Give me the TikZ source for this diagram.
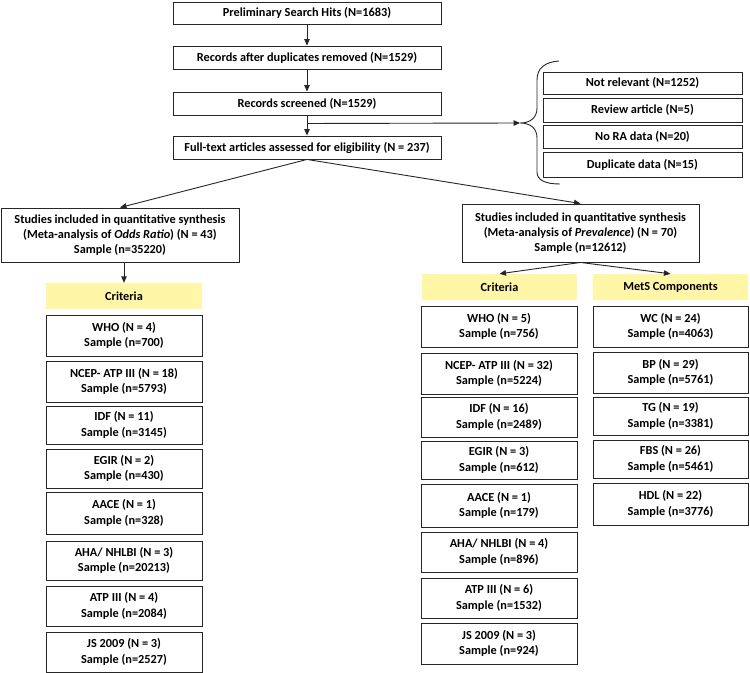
\documentclass[tikz,border=0pt]{standalone}
\usepackage{fontspec}
\setmainfont{Carlito}
\usetikzlibrary{arrows.meta,calc}
\definecolor{crityellow}{RGB}{255,246,168}
\newcommand\bx[7][box]{\node[#1, minimum width={(#5-#3)*1bp}, minimum height={(#6-#4)*1bp}] (#2) at ({(#3+#5)/2},{(#4+#6)/2}) {#7};}
\begin{document}
\begin{tikzpicture}[x=1bp,y=-1bp,
  box/.style={draw=black!85, line width=0.9bp, fill=white, inner sep=0pt, align=center,
    font=\bfseries\fontsize{12.3bp}{15.3bp}\selectfont},
  ybox/.style={fill=crityellow, inner sep=0pt, align=center,
    font=\bfseries\fontsize{12.3bp}{15.3bp}\selectfont},
  arr/.style={-{Triangle[length=6.5bp,width=5.5bp]}, line width=0.9bp, black!85},
  ln/.style={line width=0.9bp, black!85}]
\useasboundingbox (0,0) rectangle (750,673);
% main column
\bx{b1}{173}{2}{441}{24}{Preliminary Search Hits (N=1683)}
\bx{b2}{173}{46}{441}{69}{Records after duplicates removed (N=1529)}
\bx{b3}{173}{92}{441}{115}{Records screened (N=1529)}
\bx{b4}{173}{136}{441}{159}{Full-text articles assessed for eligibility (N = 237)}
% excluded
\bx{e1}{543}{72}{742}{94}{Not relevant (N=1252)}
\bx{e2}{543}{98}{742}{122}{Review article (N=5)}
\bx{e3}{543}{125}{742}{148}{No RA data (N=20)}
\bx{e4}{543}{152}{742}{177}{Duplicate data (N=15)}
% syntheses
\bx{odds}{1}{208}{239}{262}{Studies included in quantitative synthesis\\(Meta-analysis of \textit{Odds Ratio}) (N = 43)\\Sample (n=35220)}
\bx{prev}{462}{204}{699}{262}{Studies included in quantitative synthesis\\(Meta-analysis of \textit{Prevalence}) (N = 70)\\Sample (n=12612)}
% yellow headers
\bx[ybox]{critL}{46}{283}{202}{309}{Criteria}
\bx[ybox]{critR}{422}{274}{577}{300}{Criteria}
\bx[ybox]{mets}{593}{274}{748}{300}{MetS Components}
% left column
\bx{l1}{46}{315}{202}{356}{WHO (N = 4)\\Sample (n=700)}
\bx{l2}{46}{361}{202}{402}{NCEP- ATP III (N = 18)\\Sample (n=5793)}
\bx{l3}{46}{406}{202}{444}{IDF (N = 11)\\Sample (n=3145)}
\bx{l4}{46}{449}{202}{488}{EGIR (N = 2)\\Sample (n=430)}
\bx{l5}{46}{492}{202}{534}{AACE (N = 1)\\Sample (n=328)}
\bx{l6}{46}{541}{202}{580}{AHA/ NHLBI (N = 3)\\Sample (n=20213)}
\bx{l7}{46}{586}{202}{626}{ATP III (N = 4)\\Sample (n=2084)}
\bx{l8}{46}{632}{202}{672}{JS 2009 (N = 3)\\Sample (n=2527)}
% right criteria column
\bx{r1}{421}{306}{577}{347}{WHO (N = 5)\\Sample (n=756)}
\bx{r2}{421}{353}{577}{394}{NCEP- ATP III (N = 32)\\Sample (n=5224)}
\bx{r3}{421}{397}{577}{437}{IDF (N = 16)\\Sample (n=2489)}
\bx{r4}{421}{441}{577}{479}{EGIR (N = 3)\\Sample (n=612)}
\bx{r5}{421}{484}{577}{527}{AACE (N = 1)\\Sample (n=179)}
\bx{r6}{421}{532}{577}{572}{AHA/ NHLBI (N = 4)\\Sample (n=896)}
\bx{r7}{421}{578}{577}{618}{ATP III (N = 6)\\Sample (n=1532)}
\bx{r8}{421}{623}{577}{664}{JS 2009 (N = 3)\\Sample (n=924)}
% MetS components column
\bx{m1}{593}{306}{748}{347}{WC (N = 24)\\Sample (n=4063)}
\bx{m2}{593}{352}{748}{393}{BP (N = 29)\\Sample (n=5761)}
\bx{m3}{593}{397}{748}{435}{TG (N = 19)\\Sample (n=3381)}
\bx{m4}{593}{440}{748}{478}{FBS (N = 26)\\Sample (n=5461)}
\bx{m5}{593}{483}{748}{525}{HDL (N = 22)\\Sample (n=3776)}
% connectors
\draw[arr] (b1) -- (b2);
\draw[arr] (b2) -- (b3);
\draw[arr] (b3) -- (b4);
\coordinate (bs) at ($(b3.south)!0.4!(b4.north)$);
\coordinate (bt) at (520,123);
\draw[arr] (bs) -- (bt);
\draw[ln] (559,61) .. controls (545,62) and (537,68) .. (537,80) -- (537,108)
  .. controls (537,118) and (530,123) .. (bt)
  .. controls (530,123) and (537,128) .. (537,138) -- (537,172)
  .. controls (537,180) and (545,184) .. (560,184);
\draw[arr] (b4.south) -- (odds.north);
\draw[arr] (b4.south) -- (prev.north);
\draw[arr] (critL.north |- odds.south) -- (critL.north);
\draw[arr] (prev.south) -- (critR.north);
\draw[arr] (prev.south) -- (mets.north);
\end{tikzpicture}
\end{document}
